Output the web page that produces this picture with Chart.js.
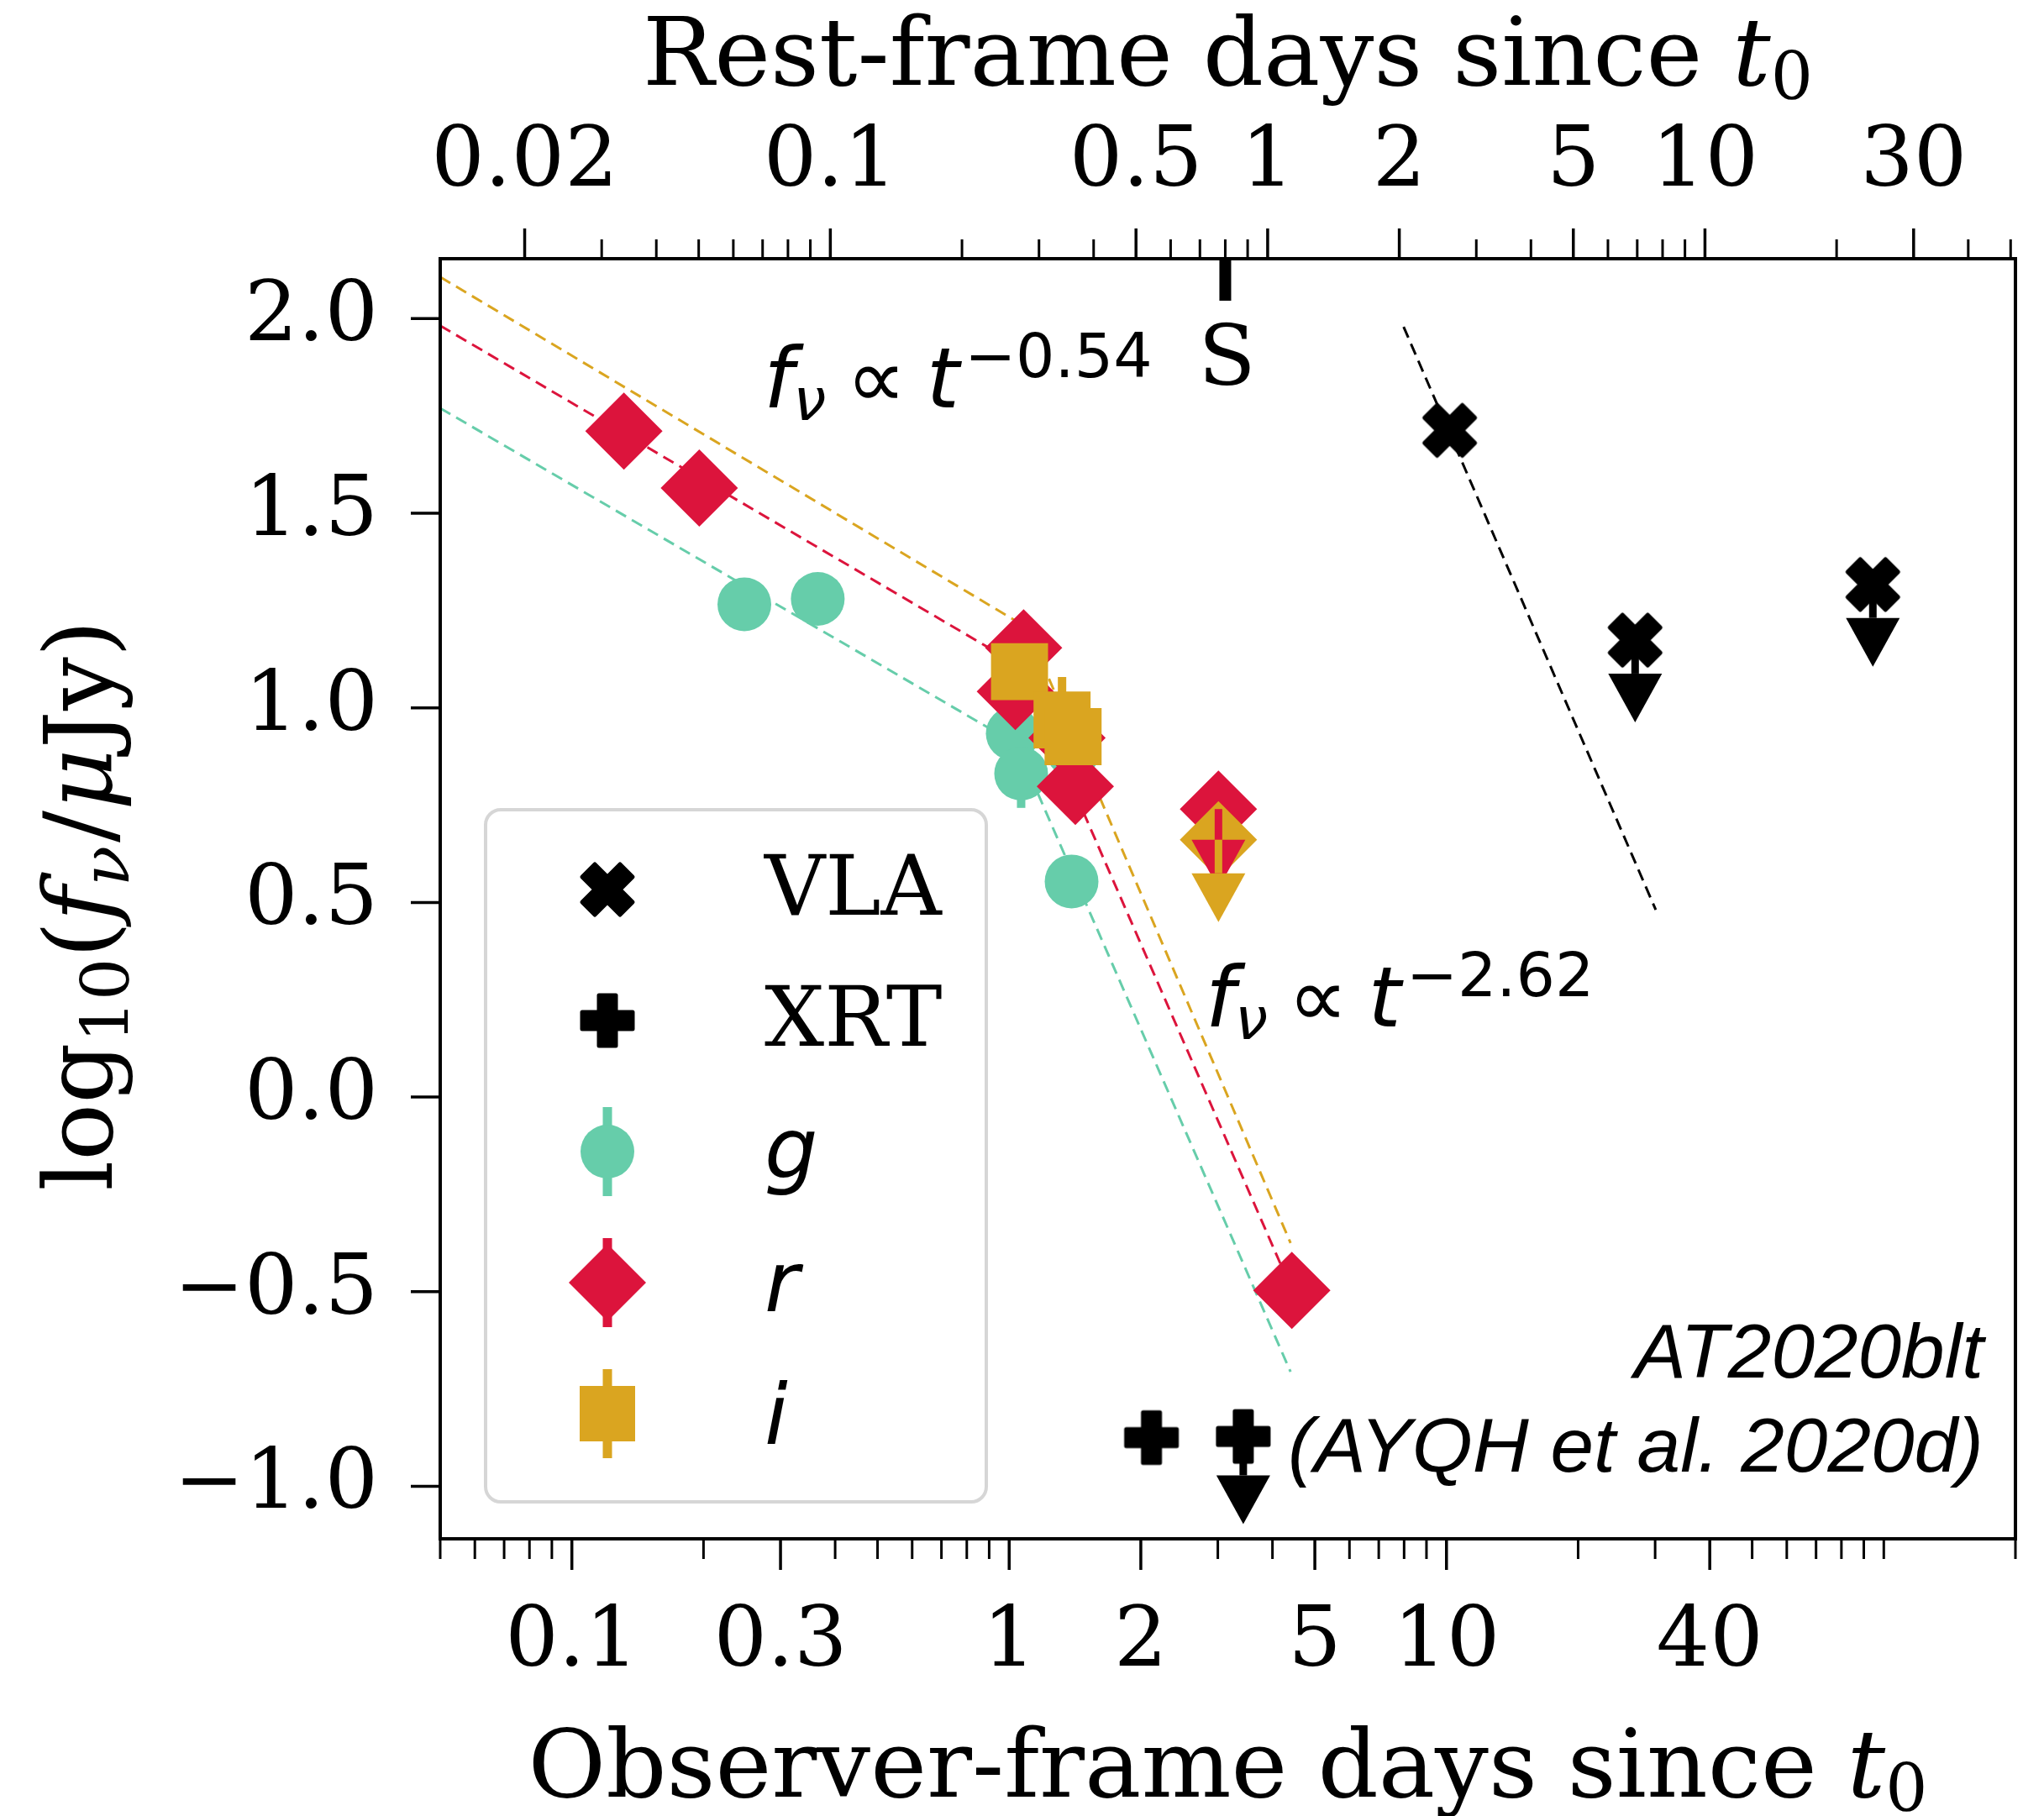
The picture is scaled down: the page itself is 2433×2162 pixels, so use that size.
<!DOCTYPE html>
<html>
<head>
<meta charset="utf-8">
<title>AT2020blt light curve</title>
<script src="https://cdn.jsdelivr.net/npm/chart.js@4.4.1/dist/chart.umd.min.js"></script>
<style>
  html, body { margin: 0; padding: 0; background: #fff; overflow: hidden; }
  #wrap { width: 2433px; height: 2162px; position: relative; }
</style>
</head>
<body>
<div id="wrap"><canvas id="lc"></canvas></div>
<script>
// redshift, used for the rest-frame axis on top
const redshift = 2.9;

// observer-frame days since t0 and log10(f / uJy)
const gDays = [0.248, 0.365, 1.019, 1.065, 1.40, 1.389];
const gFlux = [1.266, 1.280, 0.934, 0.831, 0.89, 0.554];
const gErr  = [0.05, 0.05, 0.06, 0.088, 0.06, 0.06];

const rDays = [0.1315, 0.1956, 1.033, 1.079, 1.356, 1.417, 4.43];
const rFlux = [1.711, 1.565, 1.042, 1.154, 0.923, 0.798, -0.497];
const rErr  = [0.04, 0.04, 0.06, 0.06, 0.06, 0.06, 0.08];

const iDays = [1.056, 1.321, 1.40];
const iFlux = [1.093, 0.969, 0.926];
const iErr  = [0.06, 0.11, 0.06];

// optical upper limits (arrow length in dex)
const rLimDays = [3.01], rLimFlux = [0.740], rLimArrow = [0.079];
const iLimDays = [3.01], iLimFlux = [0.661], iLimArrow = [0.086];

const vlaDays  = [10.17, 27.0, 94.4];
const vlaFlux  = [1.713, 1.174, 1.317];
const vlaUpper = [false, true, true];
const vlaArrow = [0, 0.086, 0.086];

const xrtDays  = [2.115, 3.43];
const xrtFlux  = [-0.875, -0.872];
const xrtUpper = [false, true];
const xrtArrow = [0, 0.10];

// power-law fits as drawn (start, break, end)
const gFitDays = [0.05, 1.038, 4.40], gFitFlux = [1.770, 0.907, -0.706];
const rFitDays = [0.05, 1.056, 4.40], rFitFlux = [1.982, 1.108, -0.488];
const iFitDays = [0.05, 1.099, 4.40], iFitFlux = [2.107, 1.206, -0.375];
const vlaFitDays = [7.98, 30.1], vlaFitFlux = [1.979, 0.481];

// spectrum epoch
const specDays = [3.12], specLabels = ['S'];

// slope labels, placed in data coords
const noteDays = [0.2745, 2.81], noteFlux = [1.772, 0.182];
const noteSlopes = ['\u22120.54', '\u22122.62'];

// axes
const xMin = 0.05, xMax = 200;
const yMin = -1.135, yMax = 2.154;
const obsTickLabels  = [0.1, 0.3, 1, 2, 5, 10, 40];
const restTickLabels = [0.02, 0.1, 0.5, 1, 2, 5, 10, 30];
const yTickValues    = [-1.0, -0.5, 0.0, 0.5, 1.0, 1.5, 2.0];

const G_COL = '#66cdaa', R_COL = '#dc143c', I_COL = '#daa520';
const SERIF = '"DejaVu Serif", serif';
const SANS = '"DejaVu Sans", sans-serif';
const HELV = '"Liberation Sans", Arial, sans-serif';

const pts = (xs, ys) => xs.map((v, k) => ({ x: v, y: ys[k] }));

// filled X and plus markers (matplotlib 'X' / 'P' outlines)
const xVerts = [[-1,-2],[0,-1],[1,-2],[2,-1],[1,0],[2,1],[1,2],[0,1],[-1,2],[-2,1],[-1,0],[-2,-1]];
const pVerts = [[-1,-3],[1,-3],[1,-1],[3,-1],[3,1],[1,1],[1,3],[-1,3],[-1,1],[-3,1],[-3,-1],[-1,-1]];
function markerCanvas(verts, unit, color) {
  const size = 60, pad = 5;
  const c = document.createElement('canvas');
  c.width = c.height = size + 2 * pad;
  const g = c.getContext('2d');
  g.translate(c.width / 2, c.height / 2);
  g.beginPath();
  verts.forEach(([vx, vy], k) => {
    const px = vx / unit * size, py = vy / unit * size;
    k ? g.lineTo(px, py) : g.moveTo(px, py);
  });
  g.closePath();
  g.fillStyle = color; g.fill();
  g.lineJoin = 'round'; g.lineWidth = 5; g.strokeStyle = color; g.stroke();
  return c;
}
const vlaMark = markerCanvas(xVerts, 4, '#000');
const xrtMark = markerCanvas(pVerts, 6, '#000');

function minorLog(lo, hi, skip) {
  const out = [];
  for (let e = -3; e <= 3; e++) {
    for (let m = 1; m <= 9; m++) {
      const v = +(m * Math.pow(10, e)).toPrecision(3);
      if (v >= lo * 0.999 && v <= hi * 1.001 && !skip.some(s => Math.abs(s - v) < 1e-9)) out.push(v);
    }
  }
  return out;
}
const obsMinor = minorLog(xMin, xMax, obsTickLabels);
const restMinor = minorLog(xMin / (1 + redshift), xMax / (1 + redshift), restTickLabels);

function richText(ctx, parts, x, y, align) {
  let w = 0;
  parts.forEach(p => { ctx.font = p.font; w += ctx.measureText(p.text).width + (p.gap || 0); });
  let cx = align === 'center' ? x - w / 2 : align === 'right' ? x - w : x;
  ctx.textAlign = 'left';
  ctx.textBaseline = 'alphabetic';
  parts.forEach(p => {
    ctx.font = p.font;
    ctx.fillText(p.text, cx, y + (p.dy || 0));
    cx += ctx.measureText(p.text).width + (p.gap || 0);
  });
  return w;
}

function errBars(chart, days, flux, err, color) {
  const { ctx, scales: { x, y } } = chart;
  ctx.save();
  ctx.strokeStyle = color;
  ctx.lineWidth = 10;
  days.forEach((d, k) => {
    const px = x.getPixelForValue(d);
    ctx.beginPath();
    ctx.moveTo(px, y.getPixelForValue(flux[k] - err[k]));
    ctx.lineTo(px, y.getPixelForValue(flux[k] + err[k]));
    ctx.stroke();
  });
  ctx.restore();
}

function caret(ctx, px, py) {
  ctx.beginPath();
  ctx.moveTo(px - 32, py);
  ctx.lineTo(px + 32, py);
  ctx.lineTo(px, py + 58);
  ctx.closePath();
  ctx.fill();
}

function limitArrows(chart, days, flux, arrow, upper, color) {
  const { ctx, scales: { x, y } } = chart;
  ctx.save();
  ctx.strokeStyle = color;
  ctx.fillStyle = color;
  ctx.lineWidth = 9;
  days.forEach((d, k) => {
    if (upper && !upper[k]) return;
    const px = x.getPixelForValue(d);
    const p0 = y.getPixelForValue(flux[k]);
    const p1 = y.getPixelForValue(flux[k] - arrow[k]);
    ctx.beginPath(); ctx.moveTo(px, p0); ctx.lineTo(px, p1); ctx.stroke();
    caret(ctx, px, p1);
  });
  ctx.restore();
}

function mathNote(ctx, slope, x, y) {
  richText(ctx, [
    { text: 'f', font: 'italic 100px ' + SANS },
    { text: '\u03bd', font: 'italic 70px ' + SANS, dy: 15, gap: 24 },
    { text: '\u221d', font: '100px ' + SANS, gap: 24 },
    { text: 't', font: 'italic 100px ' + SANS, gap: 6 },
    { text: slope, font: '73px ' + SANS, dy: -36 }
  ], x, y, 'left');
}

function drawLegend(ctx, a) {
  const bx = a.left + 54, by = a.top + 656, bw = 596, bh = 824;
  ctx.save();
  ctx.beginPath();
  ctx.roundRect(bx, by, bw, bh, 18);
  ctx.fillStyle = 'rgba(255,255,255,0.8)';
  ctx.fill();
  ctx.lineWidth = 4;
  ctx.strokeStyle = 'rgba(204,204,204,0.8)';
  ctx.stroke();

  const mx = bx + 145, tx = bx + 332;
  const rows = [0, 1, 2, 3, 4].map(k => by + 95 + k * 156);
  ctx.fillStyle = '#000';
  ctx.drawImage(vlaMark, mx - vlaMark.width / 2, rows[0] - vlaMark.height / 2);
  ctx.drawImage(xrtMark, mx - xrtMark.width / 2, rows[1] - xrtMark.height / 2);

  const bar = (cy, color) => {
    ctx.strokeStyle = color; ctx.lineWidth = 11;
    ctx.beginPath(); ctx.moveTo(mx, cy - 53); ctx.lineTo(mx, cy + 53); ctx.stroke();
  };
  bar(rows[2], G_COL);
  ctx.fillStyle = G_COL;
  ctx.beginPath(); ctx.arc(mx, rows[2], 32, 0, Math.PI * 2); ctx.fill();
  bar(rows[3], R_COL);
  ctx.fillStyle = R_COL;
  ctx.beginPath();
  ctx.moveTo(mx, rows[3] - 46); ctx.lineTo(mx + 46, rows[3]);
  ctx.lineTo(mx, rows[3] + 46); ctx.lineTo(mx - 46, rows[3]);
  ctx.closePath(); ctx.fill();
  bar(rows[4], I_COL);
  ctx.fillStyle = I_COL;
  ctx.fillRect(mx - 33, rows[4] - 33, 66, 66);

  ctx.fillStyle = '#000';
  ctx.textAlign = 'left';
  ctx.textBaseline = 'alphabetic';
  ctx.font = '100px ' + SERIF;
  ctx.fillText('VLA', tx, rows[0] + 30);
  ctx.fillText('XRT', tx, rows[1] + 30);
  ctx.font = 'italic 100px ' + SANS;
  ctx.fillText('g', tx, rows[2] + 31);
  ctx.fillText('r', tx, rows[3] + 34);
  ctx.fillText('i', tx, rows[4] + 36);
  ctx.restore();
}

const decorPlugin = {
  id: 'decor',
  beforeDatasetsDraw(chart) {
    errBars(chart, gDays, gFlux, gErr, G_COL);
    errBars(chart, rDays, rFlux, rErr, R_COL);
    errBars(chart, iDays, iFlux, iErr, I_COL);
  },
  afterDatasetsDraw(chart) {
    limitArrows(chart, rLimDays, rLimFlux, rLimArrow, null, R_COL);
    limitArrows(chart, iLimDays, iLimFlux, iLimArrow, null, I_COL);
    limitArrows(chart, vlaDays, vlaFlux, vlaArrow, vlaUpper, '#000');
    limitArrows(chart, xrtDays, xrtFlux, xrtArrow, xrtUpper, '#000');
  },
  afterDraw(chart) {
    const { ctx, chartArea: a, scales: { x, x2, y } } = chart;
    ctx.save();
    ctx.strokeStyle = '#000';
    ctx.fillStyle = '#000';

    // frame
    ctx.lineWidth = 4;
    ctx.strokeRect(a.left, a.top, a.right - a.left, a.bottom - a.top);

    // tick marks
    const tick = (x0, y0, x1, y1, w) => {
      ctx.lineWidth = w;
      ctx.beginPath(); ctx.moveTo(x0, y0); ctx.lineTo(x1, y1); ctx.stroke();
    };
    obsTickLabels.forEach(v => { const p = x.getPixelForValue(v); tick(p, a.bottom, p, a.bottom + 37, 3.5); });
    obsMinor.forEach(v => { const p = x.getPixelForValue(v); tick(p, a.bottom, p, a.bottom + 24, 3); });
    restTickLabels.forEach(v => { const p = x2.getPixelForValue(v); tick(p, a.top, p, a.top - 36, 3.5); });
    restMinor.forEach(v => { const p = x2.getPixelForValue(v); tick(p, a.top, p, a.top - 23, 3); });
    yTickValues.forEach(v => { const p = y.getPixelForValue(v); tick(a.left, p, a.left - 35, p, 3.5); });

    // spectrum epoch
    specDays.forEach((d, k) => {
      const p = x.getPixelForValue(d);
      ctx.fillRect(p - 7, a.top, 14, 50);
      ctx.font = '100px ' + SERIF;
      ctx.textAlign = 'center';
      ctx.textBaseline = 'alphabetic';
      ctx.fillText(specLabels[k], p + 2, a.top + 150);
    });

    // axis titles
    const cxm = (a.left + a.right) / 2;
    const title = txt => [
      { text: txt, font: '113px ' + SERIF },
      { text: 't', font: 'italic 113px ' + SERIF },
      { text: '0', font: '79px ' + SERIF, dy: 17 }
    ];
    richText(ctx, title('Rest-frame days since '), cxm, 101, 'center');
    richText(ctx, title('Observer-frame days since '), cxm, a.bottom + 307, 'center');

    ctx.save();
    ctx.translate(133, (a.top + a.bottom) / 2 + 8);
    ctx.rotate(-Math.PI / 2);
    richText(ctx, [
      { text: 'log', font: '113px ' + SERIF },
      { text: '10', font: '79px ' + SERIF, dy: 20 },
      { text: '(', font: '113px ' + SERIF },
      { text: 'f', font: 'italic 113px ' + SERIF },
      { text: '\u03bd', font: 'italic 79px ' + SERIF, dy: 20, gap: 4 },
      { text: '/', font: '113px ' + SERIF },
      { text: '\u03bc', font: 'italic 113px ' + SERIF },
      { text: 'Jy)', font: '113px ' + SERIF }
    ], 0, 0, 'center');
    ctx.restore();

    // slope labels
    noteDays.forEach((d, k) => {
      mathNote(ctx, noteSlopes[k], x.getPixelForValue(d), y.getPixelForValue(noteFlux[k]));
    });

    // object name
    ctx.font = 'italic 90px ' + HELV;
    const line2 = '(AYQH et al. 2020d)';
    const sx = 828 / ctx.measureText(line2).width;
    ctx.save();
    ctx.translate(a.right - 38, 0);
    ctx.scale(sx, 1);
    ctx.textAlign = 'right';
    ctx.textBaseline = 'alphabetic';
    ctx.fillText('AT2020blt', 0, a.bottom - 192);
    ctx.fillText(line2, 0, a.bottom - 80);
    ctx.restore();

    drawLegend(ctx, a);
    ctx.restore();
  }
};

const lineStyle = (color) => ({
  showLine: true, borderColor: color, borderWidth: 3, borderDash: [14, 8],
  pointRadius: 0, backgroundColor: color, order: 10
});

const datasets = [
  { label: 'g fit', data: pts(gFitDays, gFitFlux), ...lineStyle(G_COL) },
  { label: 'r fit', data: pts(rFitDays, rFitFlux), ...lineStyle(R_COL) },
  { label: 'i fit', data: pts(iFitDays, iFitFlux), ...lineStyle(I_COL) },
  { label: 'VLA fit', data: pts(vlaFitDays, vlaFitFlux), ...lineStyle('#000') },
  { label: 'g', data: pts(gDays, gFlux), pointStyle: 'circle', pointRadius: 32,
    backgroundColor: G_COL, borderWidth: 0, order: 6 },
  { label: 'r', data: pts(rDays, rFlux), pointStyle: 'rectRot', pointRadius: 46,
    backgroundColor: R_COL, borderWidth: 0, order: 5 },
  { label: 'r limit', data: pts(rLimDays, rLimFlux), pointStyle: 'rectRot', pointRadius: 46,
    backgroundColor: R_COL, borderWidth: 0, order: 4.6 },
  { label: 'i limit', data: pts(iLimDays, iLimFlux), pointStyle: 'rectRot', pointRadius: 46,
    backgroundColor: I_COL, borderWidth: 0, order: 4.5 },
  { label: 'i', data: pts(iDays, iFlux), pointStyle: 'rect', pointRadius: 48,
    backgroundColor: I_COL, borderWidth: 0, order: 4 },
  { label: 'VLA', data: pts(vlaDays, vlaFlux), pointStyle: vlaMark, pointRadius: 33, order: 2 },
  { label: 'XRT', data: pts(xrtDays, xrtFlux), pointStyle: xrtMark, pointRadius: 33, order: 2 }
];

const tickFont = { family: SERIF, size: 100 };
const fmtMinus = v => (v < 0 ? '\u2212' : '') + Math.abs(v).toFixed(1);

// keep the plot box fixed: no extra room for overhanging tick labels
const fixX = h => s => { s.height = h; s.paddingLeft = 0; s.paddingRight = 0; };

const chart = new Chart(document.getElementById('lc'), {
  type: 'scatter',
  data: { datasets },
  options: {
    responsive: true,
    maintainAspectRatio: false,
    animation: false,
    events: [],
    layout: { autoPadding: false, padding: { left: 0, right: 34, top: 0, bottom: 0 } },
    plugins: { legend: { display: false }, tooltip: { enabled: false } },
    scales: {
      x: {
        type: 'logarithmic', position: 'bottom', min: xMin, max: xMax,
        grid: { display: false, drawTicks: false }, border: { display: false },
        ticks: { font: tickFont, color: '#000', padding: 65, autoSkip: false, maxRotation: 0,
                 callback: v => String(v) },
        afterBuildTicks: s => { s.ticks = obsTickLabels.map(v => ({ value: v })); },
        afterFit: fixX(330)
      },
      x2: {
        type: 'logarithmic', position: 'top',
        min: xMin / (1 + redshift), max: xMax / (1 + redshift),
        grid: { display: false, drawTicks: false }, border: { display: false },
        ticks: { font: tickFont, color: '#000', padding: 53, autoSkip: false, maxRotation: 0,
                 callback: v => String(v) },
        afterBuildTicks: s => { s.ticks = restTickLabels.map(v => ({ value: v })); },
        afterFit: fixX(308)
      },
      y: {
        type: 'linear', min: yMin, max: yMax,
        grid: { display: false, drawTicks: false }, border: { display: false },
        ticks: { font: tickFont, color: '#000', padding: 74, autoSkip: false,
                 callback: v => fmtMinus(v) },
        afterBuildTicks: s => { s.ticks = yTickValues.map(v => ({ value: v })); },
        afterFit: s => { s.width = 524; s.paddingTop = 0; s.paddingBottom = 0; }
      }
    }
  },
  plugins: [decorPlugin]
});
</script>
</body>
</html>
